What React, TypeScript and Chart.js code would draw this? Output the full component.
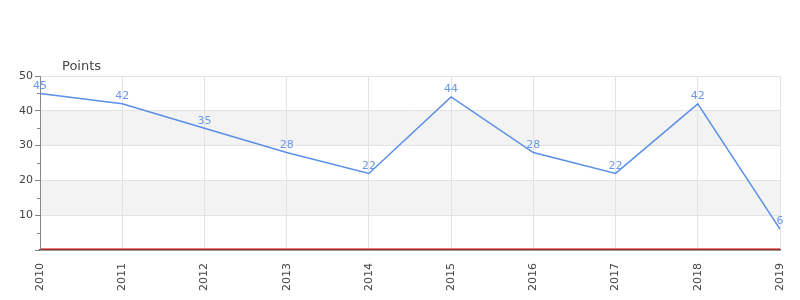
import React, { useEffect, useRef } from "react";
import { Chart, registerables } from "chart.js";

Chart.register(...registerables);

const categories = ["2010", "2011", "2012", "2013", "2014", "2015", "2016", "2017", "2018", "2019"];
const points = [45, 42, 35, 28, 22, 44, 28, 22, 42, 6];
const yTicks = [0, 10, 20, 30, 40, 50];
const bandRanges = [[10, 20], [30, 40]];
const minorTicks = [5, 15, 25, 35, 45];

const FONT = "'DejaVu Sans', sans-serif";
const LINE = "#5a8ee8";

const decorPlugin = {
  id: "decor",
  beforeDraw(chart: any) {
    const { ctx, chartArea } = chart;
    const y = chart.scales.y;
    ctx.save();
    ctx.fillStyle = "#f3f3f3";
    for (const [a, b] of bandRanges) {
      const y1 = y.getPixelForValue(b);
      const y2 = y.getPixelForValue(a);
      ctx.fillRect(chartArea.left, y1, chartArea.right - chartArea.left, y2 - y1);
    }
    ctx.restore();
  },
  afterDraw(chart: any) {
    const { ctx, chartArea } = chart;
    const y = chart.scales.y;
    const x = chart.scales.x;
    ctx.save();
    // minor ticks
    ctx.strokeStyle = "#888";
    ctx.lineWidth = 1;
    for (const v of minorTicks) {
      const py = Math.round(y.getPixelForValue(v)) + 0.5;
      ctx.beginPath();
      ctx.moveTo(chartArea.left - 3, py);
      ctx.lineTo(chartArea.left, py);
      ctx.stroke();
    }
    // zero line
    const zy = Math.round(y.getPixelForValue(0)) - 1;
    ctx.strokeStyle = "#dd0000";
    ctx.lineWidth = 1.2;
    ctx.beginPath();
    ctx.moveTo(chartArea.left + 1, zy);
    ctx.lineTo(chartArea.right, zy);
    ctx.stroke();
    // data labels
    ctx.fillStyle = "#6b98e8";
    ctx.font = `11px ${FONT}`;
    ctx.textAlign = "center";
    ctx.textBaseline = "bottom";
    points.forEach((v, i) => {
      const px = x.getPixelForValue(i);
      const py = y.getPixelForValue(v);
      ctx.fillText(String(v), px, py - 2);
    });
    // title
    ctx.fillStyle = "#444";
    ctx.font = `13px ${FONT}`;
    ctx.textAlign = "left";
    ctx.textBaseline = "alphabetic";
    ctx.fillText("Points", 62, 70);
    ctx.restore();
  },
};

export default function App() {
  const ref = useRef<HTMLCanvasElement>(null);
  useEffect(() => {
    document.body.style.margin = "0";
    const chart = new Chart(ref.current!, {
      type: "line",
      data: {
        labels: categories,
        datasets: [
          {
            data: points,
            borderColor: LINE,
            borderWidth: 1.5,
            pointRadius: 0,
            tension: 0,
            fill: false,
          },
        ],
      },
      options: {
        animation: false,
        responsive: false,
        layout: { padding: { top: 76, right: 20, left: 0, bottom: 0 } },
        plugins: { legend: { display: false }, tooltip: { enabled: false } },
        scales: {
          x: {
            offset: false,
            afterFit: (s: any) => {
              s.height = 50;
              s.paddingLeft = 0;
              s.paddingRight = 0;
            },
            grid: { color: "#e3e3e3", drawTicks: false },
            border: { color: "#555", width: 1.5 },
            ticks: {
              color: "#444",
              font: { family: FONT, size: 11 },
              minRotation: 90,
              maxRotation: 90,
              padding: 13,
              autoSkip: false,
            },
          },
          y: {
            min: 0,
            max: 50,
            afterFit: (s: any) => {
              s.width = 40;
              s.paddingTop = 0;
              s.paddingBottom = 0;
            },
            afterBuildTicks: (s: any) => { s.ticks = yTicks.map((v) => ({ value: v })); },
            grid: {
              color: "#e3e3e3",
              tickColor: "#888",
              tickLength: 5,
            },
            border: { color: "#888" },
            ticks: {
              color: "#444",
              font: { family: FONT, size: 11 },
              padding: 2,
              callback: (v: any) => (v === 0 ? "" : String(v)),
            },
          },
        },
      },
      plugins: [decorPlugin],
    });
    return () => chart.destroy();
  }, []);
  return (
    <div style={{ width: 800, height: 300 }}>
      <canvas ref={ref} width={800} height={300} />
    </div>
  );
}
